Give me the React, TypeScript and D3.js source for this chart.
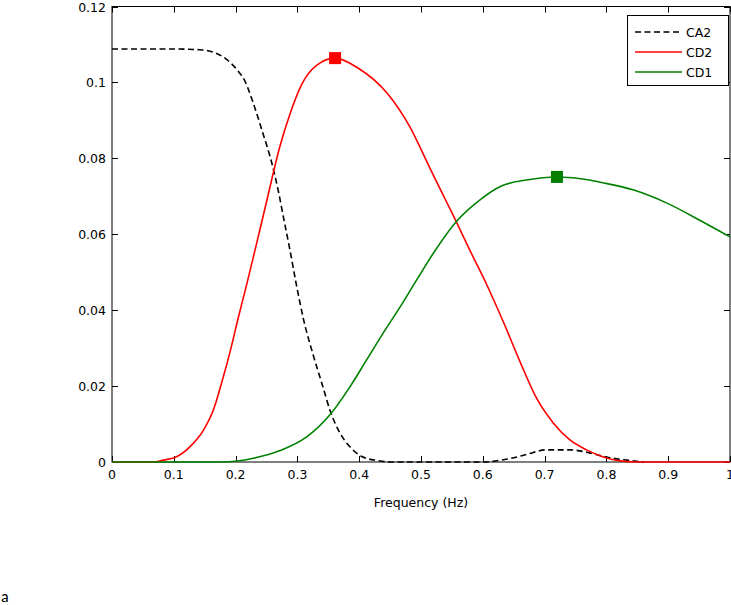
import { useEffect, useRef } from 'react';
import * as d3 from 'd3';

// CA2 (black dashed)
const ca2Freq = [0, 0.1, 0.142, 0.163, 0.186, 0.204, 0.215, 0.228, 0.244, 0.259, 0.269, 0.278, 0.288, 0.298, 0.31, 0.325, 0.34, 0.353, 0.369, 0.385, 0.406, 0.429, 0.45, 0.6, 0.63, 0.652, 0.671, 0.703, 0.741, 0.773, 0.8, 0.833, 0.86];
const ca2Val = [0.1088, 0.1088, 0.1086, 0.108, 0.106, 0.103, 0.1004, 0.0948, 0.0867, 0.0785, 0.0715, 0.064, 0.0558, 0.047, 0.0375, 0.0285, 0.0205, 0.0135, 0.0076, 0.004, 0.0013, 0.0004, 0, 0, 0.0005, 0.0012, 0.002, 0.0032, 0.0032, 0.0024, 0.0013, 0.0005, 0];

// CD2 (red)
const cd2Freq = [0, 0.07, 0.083, 0.102, 0.126, 0.148, 0.164, 0.178, 0.191, 0.204, 0.218, 0.228, 0.239, 0.25, 0.261, 0.272, 0.288, 0.307, 0.331, 0.361, 0.398, 0.445, 0.482, 0.515, 0.542, 0.558, 0.579, 0.607, 0.633, 0.66, 0.687, 0.714, 0.741, 0.768, 0.795, 0.822, 0.85, 1];
const cd2Val = [0, 0, 0.0005, 0.0012, 0.004, 0.0084, 0.0137, 0.0212, 0.029, 0.0378, 0.0468, 0.0535, 0.061, 0.0685, 0.0762, 0.0833, 0.0917, 0.0995, 0.1045, 0.1064, 0.1038, 0.0972, 0.0883, 0.0772, 0.0683, 0.063, 0.0558, 0.0465, 0.037, 0.0265, 0.0168, 0.0103, 0.0058, 0.0032, 0.0013, 0.0003, 0, 0];

// CD1 (green)
const cd1Freq = [0, 0.18, 0.229, 0.272, 0.315, 0.353, 0.385, 0.412, 0.439, 0.466, 0.495, 0.52, 0.558, 0.595, 0.63, 0.671, 0.72, 0.773, 0.79, 0.843, 0.898, 0.951, 1];
const cd1Val = [0, 0, 0.001, 0.003, 0.0066, 0.0125, 0.0198, 0.0269, 0.034, 0.0408, 0.0485, 0.055, 0.0635, 0.069, 0.0727, 0.0743, 0.0751, 0.0743, 0.0737, 0.0717, 0.0682, 0.0637, 0.0593];

// peak markers
const peakFreq = [0.361, 0.72];
const peakVal = [0.1064, 0.0751];
const peakColor = ['#ff0000', '#008000'];

const xTicks = [0, 0.1, 0.2, 0.3, 0.4, 0.5, 0.6, 0.7, 0.8, 0.9, 1];
const yTicks = [0, 0.02, 0.04, 0.06, 0.08, 0.1, 0.12];
const legendNames = ['CA2', 'CD2', 'CD1'];

const App = () => {
  const svgRef = useRef(null);

  useEffect(() => {
    const left = 112, right = 730, top = 6.5, bottom = 462;
    const font = '"DejaVu Sans", Verdana, sans-serif';

    const svg = d3.select(svgRef.current);
    svg.selectAll('*').remove();
    svg.attr('width', 731).attr('height', 605);

    const x = d3.scaleLinear().domain([0, 1]).range([left, right]);
    const y = d3.scaleLinear().domain([0, 0.12]).range([bottom, top]);

    // box
    svg.append('rect')
      .attr('x', left).attr('y', top)
      .attr('width', right - left).attr('height', bottom - top)
      .attr('fill', 'white').attr('stroke', 'black').attr('stroke-width', 1);

    // x ticks (inside, top and bottom)
    const xt = svg.append('g');
    xTicks.forEach(t => {
      const px = Math.round(x(t)) + 0.5;
      xt.append('line').attr('x1', px).attr('x2', px).attr('y1', bottom).attr('y2', bottom - 6).attr('stroke', 'black');
      xt.append('line').attr('x1', px).attr('x2', px).attr('y1', top).attr('y2', top + 6).attr('stroke', 'black');
      xt.append('text')
        .attr('x', x(t)).attr('y', bottom + 17)
        .attr('text-anchor', 'middle')
        .attr('font-family', font).attr('font-size', 12.5)
        .text(d3.format('~g')(t));
    });

    const yt = svg.append('g');
    yTicks.forEach(t => {
      const py = Math.round(y(t)) + 0.5;
      yt.append('line').attr('x1', left).attr('x2', left + 6).attr('y1', py).attr('y2', py).attr('stroke', 'black');
      yt.append('line').attr('x1', right).attr('x2', right - 6).attr('y1', py).attr('y2', py).attr('stroke', 'black');
      yt.append('text')
        .attr('x', left - 6).attr('y', y(t) + 5)
        .attr('text-anchor', 'end')
        .attr('font-family', font).attr('font-size', 12.5)
        .text(d3.format('~g')(t));
    });

    svg.append('text')
      .attr('x', x(0.5)).attr('y', 507)
      .attr('text-anchor', 'middle')
      .attr('font-family', font).attr('font-size', 12.5)
      .text('Frequency (Hz)');

    const line = d3.line<[number, number]>()
      .x(d => x(d[0]))
      .y(d => y(d[1]))
      .curve(d3.curveMonotoneX);

    const series = [
      { f: ca2Freq, v: ca2Val, color: 'black', dash: '6,3.5' },
      { f: cd2Freq, v: cd2Val, color: '#ff0000', dash: null },
      { f: cd1Freq, v: cd1Val, color: '#008000', dash: null },
    ];

    series.forEach(s => {
      svg.append('path')
        .datum(s.f.map((f, i) => [f, s.v[i]] as [number, number]))
        .attr('d', line)
        .attr('fill', 'none')
        .attr('stroke', s.color)
        .attr('stroke-width', 1.6)
        .attr('stroke-dasharray', s.dash);
    });

    peakFreq.forEach((f, i) => {
      svg.append('rect')
        .attr('x', x(f) - 6).attr('y', y(peakVal[i]) - 6)
        .attr('width', 12).attr('height', 12)
        .attr('fill', peakColor[i]);
    });

    // legend
    const lg = svg.append('g');
    lg.append('rect')
      .attr('x', 627.5).attr('y', 15.5).attr('width', 101).attr('height', 70)
      .attr('fill', 'white').attr('stroke', 'black');
    legendNames.forEach((name, i) => {
      const ly = 32 + i * 20;
      lg.append('line')
        .attr('x1', 635).attr('x2', 682).attr('y1', ly).attr('y2', ly)
        .attr('stroke', series[i].color).attr('stroke-width', 1.6)
        .attr('stroke-dasharray', series[i].dash);
      lg.append('text')
        .attr('x', 686).attr('y', ly + 5)
        .attr('font-family', font).attr('font-size', 12.5)
        .text(name);
    });

    svg.append('text')
      .attr('x', 1).attr('y', 602)
      .attr('font-family', 'Carlito, "Open Sans", sans-serif').attr('font-size', 16)
      .text('a');
  }, []);

  return <svg ref={svgRef} style={{ position: 'absolute', left: 0, top: 0 }}></svg>;
};

export default App;
